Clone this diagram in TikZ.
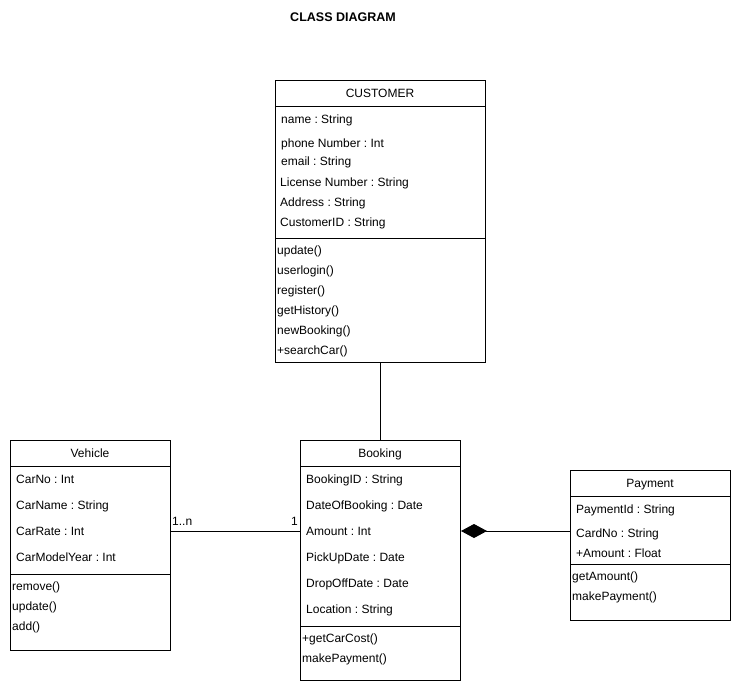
\documentclass[tikz,border=0pt]{standalone}
\usepackage{fontspec}
\setmainfont{Liberation Sans}
\usetikzlibrary{arrows.meta}
\frenchspacing
\begin{document}
\begin{tikzpicture}[x=1pt,y=-1pt,
  classbox/.style={draw=black,line width=1pt,fill=white,inner sep=0pt,anchor=north west},
  sep/.style={draw=black,line width=1pt},
  member/.style={anchor=base west,inner sep=0pt,yshift=-4.3pt,font=\fontsize{12}{14}\selectfont},
  title/.style={anchor=base,inner sep=0pt,yshift=-4.3pt,font=\fontsize{12}{14}\selectfont},
  link/.style={draw=black,line width=1pt},
  mult/.style={inner sep=0pt,font=\fontsize{12}{14}\selectfont}]
\useasboundingbox (0,0) rectangle (741,691);
\fill[white] (0,0) rectangle (741,691);

% heading
\node[inner sep=0pt,anchor=base,yshift=-4.5pt,font=\bfseries\fontsize{12.5}{15}\selectfont] (heading) at (343,17) {CLASS DIAGRAM};

% CUSTOMER
\node[classbox,minimum width=210pt,minimum height=282pt] (cust) at (275,80) {};
\draw[sep] (275,106) -- (485,106);
\draw[sep] (275,238) -- (485,238);
\node[title] (custT) at (380,93) {CUSTOMER};
\node[member] (c1) at (281,119) {name : String};
\node[member] (c2) at (281,143) {phone Number : Int};
\node[member] (c3) at (281,161) {email : String};
\node[member] (c4) at (280,182) {License Number : String};
\node[member] (c5) at (280,202) {Address : String};
\node[member] (c6) at (280,222) {CustomerID : String};
\node[member] (cm1) at (277,250) {update()};
\node[member] (cm2) at (277,270) {userlogin()};
\node[member] (cm3) at (277,290) {register()};
\node[member] (cm4) at (277,310) {getHistory()};
\node[member] (cm5) at (277,330) {newBooking()};
\node[member] (cm6) at (277,350) {+searchCar()};

% Vehicle
\node[classbox,minimum width=160pt,minimum height=210pt] (veh) at (10,440) {};
\draw[sep] (10,466) -- (170,466);
\draw[sep] (10,574) -- (170,574);
\node[title] (vehT) at (90,453) {Vehicle};
\node[member] (v1) at (16,479) {CarNo : Int};
\node[member] (v2) at (16,505) {CarName : String};
\node[member] (v3) at (16,531) {CarRate : Int};
\node[member] (v4) at (16,557) {CarModelYear : Int};
\node[member] (vm1) at (12,586) {remove()};
\node[member] (vm2) at (12,606) {update()};
\node[member] (vm3) at (12,626) {add()};

% Booking
\node[classbox,minimum width=160pt,minimum height=240pt] (book) at (300,440) {};
\draw[sep] (300,466) -- (460,466);
\draw[sep] (300,626) -- (460,626);
\node[title] (bookT) at (380,453) {Booking};
\node[member] (b1) at (306,479) {BookingID : String};
\node[member] (b2) at (306,505) {DateOfBooking : Date};
\node[member] (b3) at (306,531) {Amount : Int};
\node[member] (b4) at (306,557) {PickUpDate : Date};
\node[member] (b5) at (306,583) {DropOffDate : Date};
\node[member] (b6) at (306,609) {Location : String};
\node[member] (bm1) at (302,638) {+getCarCost()};
\node[member] (bm2) at (302,658) {makePayment()};

% Payment
\node[classbox,minimum width=160pt,minimum height=150pt] (pay) at (570,470) {};
\draw[sep] (570,496) -- (730,496);
\draw[sep] (570,564) -- (730,564);
\node[title] (payT) at (650,483) {Payment};
\node[member] (p1) at (576,509) {PaymentId : String};
\node[member] (p2) at (576,533) {CardNo : String};
\node[member] (p3) at (576,553) {+Amount : Float};
\node[member] (pm1) at (572,576) {getAmount()};
\node[member] (pm2) at (572,596) {makePayment()};

% associations
\coordinate (rowY) at (0,531);
\draw[link] (cust.south) -- (book.north);
\draw[link] (veh.east |- rowY) -- (book.west |- rowY);
\node[mult,anchor=base west] (m1) at (172,525) {1..n};
\node[mult,anchor=base east] (m2) at (298,525) {1};

% composition: Booking owns Payment
\draw[link,{Diamond[length=26pt,width=14pt,fill=black]}-] (book.east |- rowY) -- (pay.west |- rowY);
\end{tikzpicture}
\end{document}
